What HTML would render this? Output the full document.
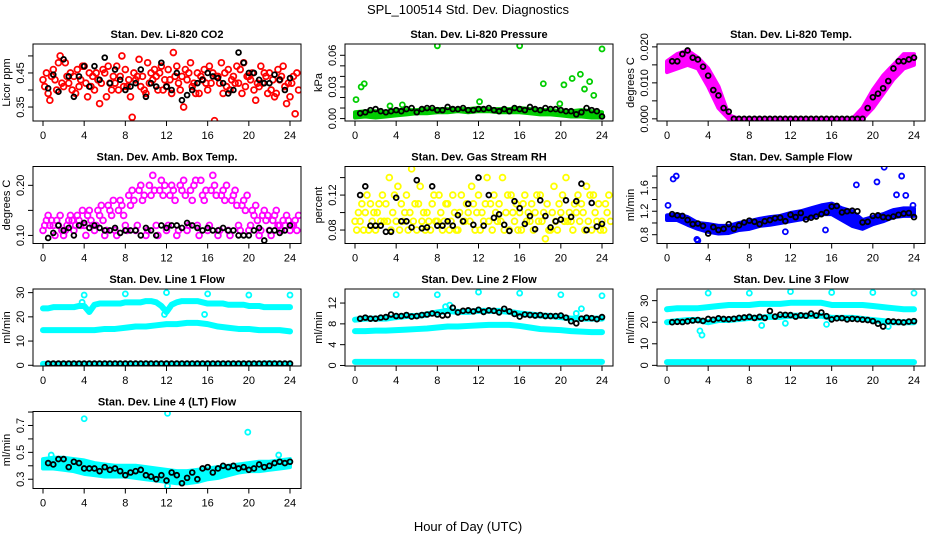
<!DOCTYPE html>
<html><head><meta charset="utf-8"><style>
html,body{margin:0;padding:0;background:#fff;}
svg{display:block;font-family:"Liberation Sans",Arial,sans-serif;}
</style></head><body>
<svg id="c" width="936" height="540" xmlns="http://www.w3.org/2000/svg">
<text x="468" y="14" font-size="13" text-anchor="middle">SPL_100514  Std. Dev. Diagnostics</text>
<text x="468" y="531" font-size="13" text-anchor="middle">Hour of Day (UTC)</text>
</svg>
<script>
// ---- data ----
const hourTicks=[0,4,8,12,16,20,24];
const co2A=[0.43,0.46,0.41,0.44,0.47,0.40,0.45,0.42,0.46,0.43,0.39,0.44,0.41,0.47,0.43,0.45,0.40,0.44,0.46,0.42,0.44,0.41,0.45,0.43,0.38];
const co2B=[0.41,0.43,0.48,0.39,0.42,0.45,0.38,0.47,0.41,0.44,0.48,0.40,0.46,0.42,0.45,0.39,0.47,0.42,0.40,0.46,0.43,0.47,0.40,0.44,0.42];
const co2C=[0.45,0.40,0.44,0.46,0.38,0.43,0.47,0.40,0.43,0.49,0.42,0.45,0.43,0.40,0.48,0.44,0.42,0.48,0.43,0.39,0.45,0.42,0.43,0.47,0.44];
const co2D=[0.39,0.48,0.42,0.41,0.45,0.36,0.42,0.44,0.38,0.41,0.45,0.47,0.39,0.44,0.41,0.43,0.45,0.39,0.44,0.48,0.40,0.45,0.38,0.41,0.33];
const co2E=[0.37,0.50,0.45,0.43,0.41,0.42,0.40,0.50,0.32,0.44,0.43,0.40,0.51,0.35,0.42,0.46,0.31,0.45,0.42,0.41,0.37,0.44,0.39,0.36,0.45];
const co2F=[0.44,0.42,0.40,0.47,0.44,0.46,0.44,0.41,0.45,0.40,0.46,0.43,0.44,0.46,0.39,0.42,0.44,0.41,0.47,0.44,0.42,0.39,0.46,0.42,0.40];
const co2Mean=[0.405,0.445,0.395,0.49,0.44,0.38,0.44,0.47,0.41,0.47,0.43,0.495,0.42,0.46,0.43,0.40,0.41,0.42,0.46,0.38,0.42,0.41,0.48,0.41,0.40,0.45,0.37,0.385,0.40,0.42,0.43,0.45,0.44,0.435,0.42,0.39,0.40,0.51,0.48,0.45,0.45,0.43,0.42,0.42,0.445,0.43,0.40,0.435];

const presHi=[0.006,0.007,0.007,0.006,0.008,0.008,0.008,0.009,0.009,0.009,0.009,0.009,0.010,0.009,0.009,0.009,0.010,0.009,0.008,0.008,0.007,0.007,0.008,0.007,0.006];
const presLo=[0.001,0.002,0.001,0.002,0.003,0.004,0.005,0.005,0.006,0.006,0.007,0.006,0.007,0.007,0.006,0.006,0.006,0.005,0.004,0.004,0.003,0.002,0.002,0.001,0.001];
const presOutHr=[0.1,0.6,0.9,8,16,18.3,20.3,21.1,21.9,22.3,22.8,23.2,24,12.1,19.9,3.4,4.6];
const presOutVal=[0.018,0.030,0.033,0.069,0.069,0.033,0.032,0.038,0.042,0.028,0.035,0.022,0.066,0.016,0.014,0.012,0.013];
const presMean=[0.005,0.006,0.008,0.009,0.007,0.006,0.007,0.008,0.007,0.009,0.010,0.006,0.009,0.010,0.010,0.008,0.008,0.011,0.009,0.009,0.010,0.008,0.008,0.009,0.009,0.010,0.008,0.007,0.009,0.007,0.010,0.009,0.008,0.011,0.009,0.008,0.010,0.009,0.009,0.008,0.007,0.007,0.004,0.006,0.010,0.008,0.007,0.002];

const tempHi=[0.016,0.018,0.019,0.017,0.014,0.009,0.001,0,0,0,0,0,0,0,0,0,0,0,0,0.003,0.008,0.012,0.015,0.018,0.018];
const tempLo=[0.013,0.014,0.015,0.014,0.009,0.003,0,0,0,0,0,0,0,0,0,0,0,0,0,0,0.003,0.007,0.011,0.014,0.015];
const tempMean=[0.016,0.016,0.018,0.019,0.017,0.0165,0.0145,0.012,0.008,0.0065,0.003,0.002,0,0,0,0,0,0,0,0,0,0,0,0,0,0,0,0,0,0,0,0,0,0,0,0,0,0,0.003,0.006,0.007,0.0085,0.0105,0.014,0.016,0.016,0.0165,0.017];

const ambA=[0.11,0.12,0.10,0.11,0.12,0.11,0.10,0.11,0.12,0.11,0.10,0.12,0.11,0.10,0.11,0.12,0.11,0.10,0.11,0.12,0.11,0.10,0.11,0.12,0.11];
const ambB=[0.12,0.10,0.11,0.12,0.10,0.12,0.11,0.10,0.11,0.12,0.11,0.10,0.12,0.11,0.12,0.10,0.12,0.11,0.10,0.11,0.12,0.11,0.10,0.11,0.12];
const ambC=[0.13,0.13,0.12,0.14,0.14,0.15,0.16,0.15,0.18,0.19,0.20,0.19,0.18,0.20,0.19,0.21,0.19,0.18,0.17,0.16,0.15,0.14,0.13,0.13,0.12];
const ambD=[0.14,0.12,0.13,0.13,0.15,0.14,0.15,0.17,0.16,0.20,0.18,0.21,0.20,0.19,0.17,0.18,0.22,0.19,0.18,0.17,0.14,0.15,0.14,0.12,0.13];
const ambE=[0.12,0.14,0.14,0.12,0.13,0.16,0.14,0.16,0.19,0.17,0.22,0.18,0.19,0.21,0.20,0.17,0.20,0.17,0.19,0.15,0.16,0.13,0.15,0.14,0.11];
const ambF=[0.13,0.11,0.13,0.15,0.12,0.13,0.17,0.14,0.17,0.18,0.19,0.20,0.17,0.18,0.21,0.19,0.18,0.20,0.16,0.18,0.13,0.14,0.12,0.13,0.14];
const ambMean=[0.095,0.105,0.12,0.11,0.115,0.10,0.12,0.125,0.115,0.12,0.115,0.11,0.11,0.115,0.105,0.11,0.11,0.11,0.10,0.115,0.11,0.10,0.12,0.115,0.12,0.12,0.115,0.125,0.12,0.115,0.11,0.115,0.11,0.11,0.115,0.11,0.11,0.10,0.10,0.10,0.11,0.115,0.09,0.11,0.11,0.105,0.11,0.12];

const rhA=[0.09,0.10,0.08,0.11,0.09,0.12,0.08,0.10,0.09,0.11,0.08,0.10,0.12,0.09,0.11,0.08,0.10,0.09,0.12,0.08,0.10,0.09,0.11,0.08,0.09];
const rhB=[0.08,0.12,0.10,0.09,0.13,0.08,0.11,0.09,0.12,0.08,0.10,0.09,0.08,0.11,0.09,0.12,0.08,0.11,0.09,0.10,0.12,0.08,0.10,0.12,0.08];
const rhC=[0.10,0.08,0.11,0.14,0.08,0.10,0.13,0.08,0.10,0.09,0.12,0.13,0.10,0.08,0.14,0.10,0.11,0.08,0.10,0.13,0.09,0.11,0.08,0.10,0.11];
const rhD=[0.09,0.11,0.09,0.08,0.11,0.15,0.09,0.11,0.08,0.12,0.09,0.11,0.09,0.12,0.08,0.09,0.12,0.10,0.07,0.09,0.14,0.10,0.13,0.09,0.10];
const rhE=[0.11,0.09,0.12,0.10,0.09,0.09,0.10,0.12,0.09,0.10,0.09,0.08,0.11,0.10,0.10,0.11,0.09,0.12,0.11,0.08,0.09,0.12,0.09,0.11,0.12];
const rhF=[0.08,0.10,0.09,0.12,0.10,0.11,0.08,0.09,0.11,0.08,0.11,0.10,0.14,0.09,0.12,0.08,0.10,0.09,0.08,0.11,0.10,0.09,0.12,0.08,0.09];
const rhMean=[0.12,0.13,0.085,0.085,0.085,0.078,0.078,0.117,0.09,0.09,0.083,0.137,0.082,0.083,0.13,0.085,0.085,0.09,0.085,0.097,0.09,0.11,0.086,0.14,0.085,0.12,0.094,0.098,0.086,0.079,0.113,0.105,0.087,0.096,0.081,0.114,0.096,0.083,0.09,0.092,0.114,0.095,0.113,0.133,0.08,0.111,0.084,0.087];

const sfHi=[1.13,1.15,1.10,1.00,0.98,0.95,0.95,1.00,1.03,1.07,1.10,1.12,1.17,1.20,1.25,1.30,1.33,1.25,1.20,1.05,1.10,1.15,1.22,1.25,1.25];
const sfLo=[1.05,1.05,0.97,0.90,0.85,0.82,0.83,0.88,0.90,0.95,0.97,1.00,1.03,1.06,1.10,1.15,1.15,1.05,0.95,0.90,0.98,1.03,1.10,1.12,1.12];
const sfOutHr=[0.1,0.6,0.9,3.0,18.4,20.4,21.1,22.3,22.8,23.2,15.4,11.5,2.9,23.9];
const sfOutVal=[1.3,1.75,1.8,0.7,1.65,1.7,1.95,1.48,1.8,1.47,0.88,0.85,0.72,1.3];
const sfMean=[1.15,1.13,1.12,1.05,0.98,0.99,0.95,0.82,0.93,0.88,0.90,0.98,0.90,0.96,1.01,1.04,1.02,0.98,1.03,1.05,1.08,1.09,1.03,1.14,1.10,1.17,1.06,1.09,1.11,1.15,1.18,1.28,1.29,1.18,1.20,1.21,1.20,1.01,1.02,1.12,1.13,1.10,1.09,1.11,1.14,1.16,1.17,1.10];

const l1Up=[23.5,23.5,24,24,24,24,24,24.5,24.5,22,25,25.5,25.5,25.5,25.5,25.5,26,26,26,26,26.5,26.5,26,24.5,22,25,26,26.5,26.5,26.5,26.5,26,25.5,25.5,25.5,25.5,25,25,25,25,24.5,24.5,24.5,24,24,24,24,24,24];
const l1Mid=[14.5,14.5,14.5,14.5,14.5,14.5,15,15,15.5,16,16,16.5,17,17,17.5,17.5,17,16,15.5,15,15,14.5,14.5,14.5,14];
const l1Low=[0.6,0.6,0.6,0.6,0.6,0.6,0.6,0.6,0.6,0.6,0.6,0.6,0.6,0.6,0.6,0.6,0.6,0.6,0.6,0.6,0.6,0.6,0.8,0.6,0.6];
const l1OutHr=[4,8,12,16,20,24,3.8,11.8,15.7];
const l1OutVal=[29,29.5,30,29.5,29,29,26,21,21];
const l1Mean=[0.7,0.7,0.7,0.7,0.7,0.7,0.7,0.7,0.7,0.7,0.7,0.7,0.7,0.7,0.7,0.7,0.7,0.7,0.7,0.7,0.7,0.7,0.7,0.7,0.7,0.7,0.7,0.7,0.7,0.7,0.7,0.7,0.7,0.7,0.7,0.7,0.7,0.7,0.7,0.7,0.7,0.7,0.7,0.7,0.7,0.7,0.7,0.7];

const l2Up=[8.8,9,9,9,9.3,9.5,9.5,9.8,10.2,10.5,10.3,10.3,10.5,10.5,10.5,10.3,10,9.8,9.6,9.5,9.3,9,9,9,9];
const l2Mid=[6.6,6.6,6.7,6.7,6.8,6.9,7,7.1,7.3,7.5,7.5,7.6,7.7,7.8,7.8,7.8,7.6,7.3,7,6.9,6.8,6.6,6.5,6.4,6.4];
const l2Low=[0.7,0.7,0.7,0.7,0.7,0.7,0.7,0.7,0.7,0.7,0.7,0.7,0.7,0.7,0.7,0.7,0.7,0.7,0.7,0.7,0.7,0.7,0.7,0.7,0.7];
const l2OutHr=[4,8,12,16,20,24,8.8,9.2,21.5,22];
const l2OutVal=[13.6,13.6,14.1,13.9,13.6,13.4,11.3,11.6,10.0,10.9];
const l2Mean=[9,9.2,9,9,9.2,9.3,9.8,9.5,9.5,9.7,9.4,9.5,9.7,9.8,10,9.8,9.6,9.7,11.1,10.2,10.5,10.6,10.4,10.7,10.3,10.6,10.5,10.2,10.9,10.4,9.9,9.4,9.8,9.7,9.6,9.7,9.5,9.5,9.5,9.6,9.2,8.5,8.1,9.0,9.2,9.1,8.9,9.3];

const l3Up=[26,26.5,26.5,26.5,27,27.5,28,28,28,28.5,28.5,28.5,29,29,29,29,28,28,28,28,27.5,27,26.5,26,26];
const l3Mid=[20,20.5,21,21,20,21,21,21.5,22,22,22.5,22.5,23,23,23,23,22,22,22,21.5,21,20.5,20,20,20];
const l3Low=[1.5,1.5,1.5,1.5,1.5,1.5,1.5,1.5,1.5,1.5,1.5,1.5,1.5,1.5,1.5,1.5,1.5,1.5,1.5,1.5,1.5,1.5,1.5,1.5,1.5];
const l3OutHr=[4,8,12,16,20,24,3.2,3.4,9.2,15.5,11.5,21.5];
const l3OutVal=[33.5,33.5,34.2,33.8,33.8,33.5,16,14,18.5,19,19.5,18];
const l3Mean=[20,20.2,20.1,20.4,20.8,21,20.6,21.5,21.2,21.8,21.5,21.4,21.6,22,22.2,22.5,22,22.5,22,25.2,22.6,23.5,23.4,23.3,22.6,23.2,23,24,23.1,24.5,22.8,21.3,21.8,21.9,21.3,21.6,21.4,21.2,21,20.5,19.3,18,20.4,20.3,20.1,19.9,20.3,20.5];

const l4Hi=[0.45,0.46,0.46,0.45,0.44,0.42,0.41,0.40,0.40,0.40,0.39,0.38,0.37,0.36,0.36,0.37,0.38,0.39,0.40,0.41,0.42,0.43,0.43,0.44,0.45];
const l4Lo=[0.38,0.38,0.37,0.36,0.34,0.33,0.32,0.32,0.32,0.31,0.30,0.29,0.28,0.27,0.27,0.28,0.30,0.31,0.33,0.35,0.36,0.36,0.37,0.38,0.39];
const l4OutHr=[4,12.1,19.9,22.9,12.1,0.8];
const l4OutVal=[0.75,0.79,0.65,0.48,0.25,0.48];
const l4Mean=[0.42,0.41,0.45,0.45,0.39,0.43,0.42,0.38,0.38,0.38,0.36,0.39,0.37,0.38,0.36,0.33,0.35,0.36,0.37,0.33,0.32,0.30,0.33,0.29,0.35,0.33,0.27,0.31,0.35,0.30,0.38,0.39,0.35,0.38,0.40,0.39,0.40,0.38,0.39,0.37,0.38,0.41,0.39,0.40,0.42,0.43,0.42,0.43];

// ---- panel specs ----
const panels=[
 {name:'co2',title:'Stan. Dev. Li-820 CO2',ylab:'Licor ppm',col:'#ff0000',yr:[0.309,0.535],ticks:[0.35,0.40,0.45,0.50],labs:['0.35','','0.45',''],scat:[co2A,co2B,co2C,co2D,co2E,co2F],mean:co2Mean},
 {name:'pressure',title:'Stan. Dev. Li-820 Pressure',ylab:'kPa',col:'#00cd00',yr:[-0.0023,0.0707],ticks:[0,0.01,0.02,0.03,0.04,0.05,0.06],labs:['0.00','','','0.03','','','0.06'],bands:[[presLo,presHi]],out:[presOutHr,presOutVal],mean:presMean},
 {name:'li820-temp',title:'Stan. Dev. Li-820 Temp.',ylab:'degrees C',col:'#ff00ff',yr:[-0.0006,0.0208],ticks:[0,0.005,0.010,0.015,0.020],labs:['0.000','','0.010','','0.020'],bands:[[tempLo,tempHi]],mean:tempMean},
 {name:'amb-box-temp',title:'Stan. Dev. Amb. Box Temp.',ylab:'degrees C',col:'#ff00ff',yr:[0.0839,0.2376],ticks:[0.10,0.15,0.20],labs:['0.10','','0.20'],scat:[ambA,ambB,ambC,ambD,ambE,ambF],mean:ambMean},
 {name:'gas-stream-rh',title:'Stan. Dev. Gas Stream RH',ylab:'percent',col:'#ffff00',yr:[0.0646,0.1527],ticks:[0.08,0.10,0.12,0.14],labs:['0.08','','0.12',''],scat:[rhA,rhB,rhC,rhD,rhE,rhF],mean:rhMean},
 {name:'sample-flow',title:'Stan. Dev. Sample Flow',ylab:'ml/min',col:'#0000ff',yr:[0.65,1.963],ticks:[0.8,1.0,1.2,1.4,1.6,1.8],labs:['0.8','','1.2','','1.6',''],bands:[[sfLo,sfHi]],out:[sfOutHr,sfOutVal],mean:sfMean},
 {name:'line1-flow',title:'Stan. Dev. Line 1 Flow',ylab:'ml/min',col:'#00ffff',yr:[-0.3,31.5],ticks:[0,10,20,30],labs:['0','10','20','30'],lines:[l1Up,l1Mid,l1Low],out:[l1OutHr,l1OutVal],mean:l1Mean},
 {name:'line2-flow',title:'Stan. Dev. Line 2 Flow',ylab:'ml/min',col:'#00ffff',yr:[-0.1,14.7],ticks:[0,4,8,12],labs:['0','4','8','12'],lines:[l2Up,l2Mid,l2Low],out:[l2OutHr,l2OutVal],mean:l2Mean},
 {name:'line3-flow',title:'Stan. Dev. Line 3 Flow',ylab:'ml/min',col:'#00ffff',yr:[-0.3,35.4],ticks:[0,10,20,30],labs:['0','10','20','30'],lines:[l3Up,l3Mid,l3Low],out:[l3OutHr,l3OutVal],mean:l3Mean},
 {name:'line4-flow',title:'Stan. Dev. Line 4 (LT) Flow',ylab:'ml/min',col:'#00ffff',yr:[0.231,0.804],ticks:[0.3,0.4,0.5,0.6,0.7,0.8],labs:['0.3','','0.5','','0.7',''],bands:[[l4Lo,l4Hi]],out:[l4OutHr,l4OutVal],mean:l4Mean}
];

const NS='http://www.w3.org/2000/svg';
const svg=document.getElementById('c');
function mk(t,a,p){const e=document.createElementNS(NS,t);for(const k in a)e.setAttribute(k,a[k]);(p||svg).appendChild(e);return e;}

panels.forEach((P,idx)=>{
  const col=idx%3,row=Math.floor(idx/3);
  const L=33+312*col,T=44+122.5*row,W=268,H=77,B=T+H;
  const xs=h=>L+10+h*(247/24);
  const ys=v=>B-(v-P.yr[0])/(P.yr[1]-P.yr[0])*H;
  const g=mk('g',{});
  
  
  const clip=mk('clipPath',{id:'cl'+idx},g);mk('rect',{x:L,y:T,width:W,height:H},clip);
  const plot=mk('g',{'clip-path':'url(#cl'+idx+')'},g);
  
  
  const ring=(h,v,color,name,r)=>{const c=mk('circle',{cx:xs(h),cy:ys(v),r:r,fill:'none',stroke:color,'stroke-width':1.8},plot);
    
    };
  if(P.bands)P.bands.forEach(([lo,hi])=>{
    let d='';hi.forEach((v,i)=>{d+=(i?'L':'M')+xs(i)+','+ys(v);});
    for(let i=lo.length-1;i>=0;i--)d+='L'+xs(i)+','+ys(lo[i]);
    const p=mk('path',{d:d+'Z',fill:P.col,stroke:P.col,'stroke-width':4,'stroke-linejoin':'round'},plot);
    
    
  });
  if(P.lines)P.lines.forEach(arr=>{
    const step=24/(arr.length-1);
    let d='';arr.forEach((v,i)=>{d+=(i?'L':'M')+xs(i*step)+','+ys(v);});
    const p=mk('path',{d:d,fill:'none',stroke:P.col,'stroke-width':6,'stroke-linejoin':'round','stroke-linecap':'round'},plot);
    
    
  });
  if(P.scat)P.scat.forEach((arr,k)=>{arr.forEach((v,i)=>ring(i+k/6,v,P.col,'point-'+P.name,2.9));});
  if(P.out)P.out[0].forEach((h,i)=>ring(h,P.out[1][i],P.col,'outlier-'+P.name,2.5));
  P.mean.forEach((v,i)=>ring(0.5*(i+1),v,'#000','mean-point-'+P.name,2.4));
  const box=mk('rect',{x:L,y:T,width:W,height:H,fill:'none',stroke:'#000','stroke-width':1},g);
  
  
  const t=mk('text',{x:L+W/2,y:T-6,'font-size':11,'font-weight':'bold','text-anchor':'middle'},g);t.textContent=P.title;
  
  
  hourTicks.forEach(h=>{mk('line',{x1:xs(h),x2:xs(h),y1:B,y2:B+5,stroke:'#000'},g);
    const tx=mk('text',{x:xs(h),y:B+18,'font-size':11,'text-anchor':'middle'},g);tx.textContent=h;
    
    });
  P.ticks.forEach((v,i)=>{const y=ys(v);mk('line',{x1:L-5,x2:L,y1:y,y2:y,stroke:'#000'},g);
    if(P.labs[i]){const tx=mk('text',{x:L-9,y:y,'font-size':11,'text-anchor':'middle',transform:'rotate(-90 '+(L-9)+' '+y+')'},g);tx.textContent=P.labs[i];
    
    }});
  const yl=mk('text',{x:L-23,y:T+H/2,'font-size':11,'text-anchor':'middle',transform:'rotate(-90 '+(L-23)+' '+(T+H/2)+')'},g);yl.textContent=P.ylab;
  
  
});
</script>
</body></html>
